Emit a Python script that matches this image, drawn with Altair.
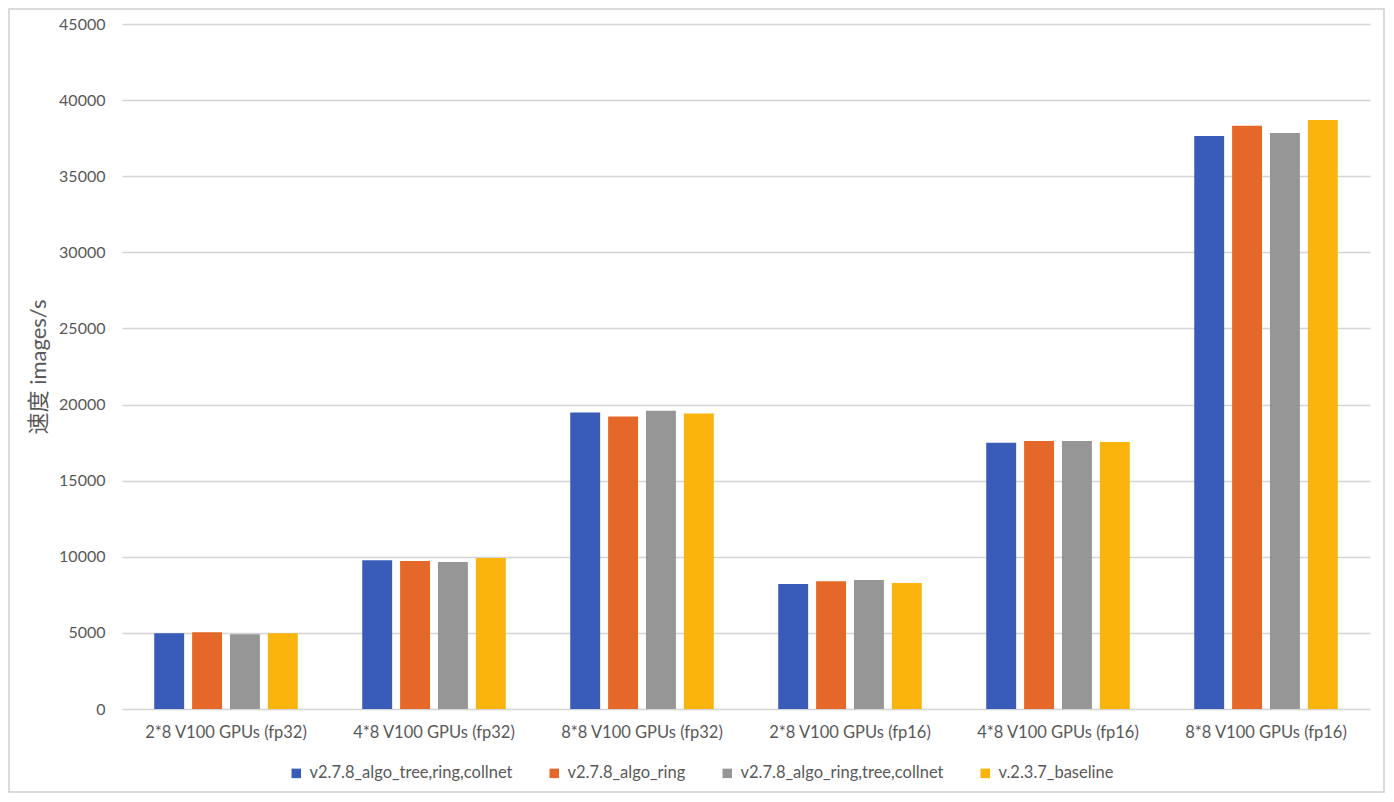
import altair as alt
import pandas as pd

categories = ["2*8 V100 GPUs (fp32)", "4*8 V100 GPUs (fp32)", "8*8 V100 GPUs (fp32)",
              "2*8 V100 GPUs (fp16)", "4*8 V100 GPUs (fp16)", "8*8 V100 GPUs (fp16)"]
series = ["v2.7.8_algo_tree,ring,collnet", "v2.7.8_algo_ring",
          "v2.7.8_algo_ring,tree,collnet", "v.2.3.7_baseline"]
tree_ring_collnet = [4980, 9780, 19480, 8210, 17490, 37650]
algo_ring = [5040, 9720, 19210, 8400, 17600, 38310]
ring_tree_collnet = [4910, 9650, 19600, 8470, 17600, 37840]
baseline = [4980, 9920, 19410, 8270, 17545, 38700]
colors = ["#385CB7", "#E56828", "#969696", "#FBB40B"]
y_ticks = list(range(0, 45001, 5000))

rows = []
for s, vals in zip(series, [tree_ring_collnet, algo_ring, ring_tree_collnet, baseline]):
    for c, v in zip(categories, vals):
        rows.append({"category": c, "series": s, "value": v})
df = pd.DataFrame(rows)

FONT = "Lato, Noto Sans CJK SC, sans-serif"
W, H = 1248, 685

bars = alt.Chart(df).mark_bar().encode(
    x=alt.X("category:N", sort=categories, title=None,
            scale=alt.Scale(paddingInner=0.31, paddingOuter=0.155),
            axis=alt.Axis(labelAngle=0, domain=False, ticks=False, labelPadding=15,
                          labelFontSize=16.5, labelColor="#595959", labelFont=FONT,
                          labelLimit=0)),
    xOffset=alt.XOffset("series:N", sort=series,
                        scale=alt.Scale(paddingInner=0.21, paddingOuter=0)),
    y=alt.Y("value:Q", title="速度 images/s",
            scale=alt.Scale(domain=[0, 45000], nice=False),
            axis=alt.Axis(values=y_ticks, domain=False, ticks=False, labelPadding=17,
                          labelFontSize=16, labelColor="#595959", labelFont=FONT,
                          format="d", gridColor="#D4D4D4", gridWidth=1.3,
                          titleFontSize=22, titleColor="#595959", titleFont=FONT,
                          titleFontWeight="normal", titlePadding=8)),
    color=alt.Color("series:N", sort=series,
                    scale=alt.Scale(domain=series, range=colors),
                    legend=alt.Legend(title=None, orient="none", direction="horizontal",
                                      legendX=166, legendY=741, symbolType="square",
                                      symbolSize=90, symbolStrokeWidth=0,
                                      labelFontSize=16.5, labelColor="#595959",
                                      labelFont=FONT, labelLimit=0,
                                      columnPadding=33, labelOffset=5)),
)

frame = alt.Chart(pd.DataFrame({"a": [0]})).mark_rect(
    fill=None, stroke="#D0D0D0", strokeWidth=1.5
).encode(
    x=alt.value(-113), x2=alt.value(1262), y=alt.value(-15), y2=alt.value(768)
)

chart = alt.layer(bars, frame).properties(
    width=W, height=H, padding=0
).configure_view(stroke=None)

chart.save("out.html", embed_options={"renderer": "svg", "actions": False})
